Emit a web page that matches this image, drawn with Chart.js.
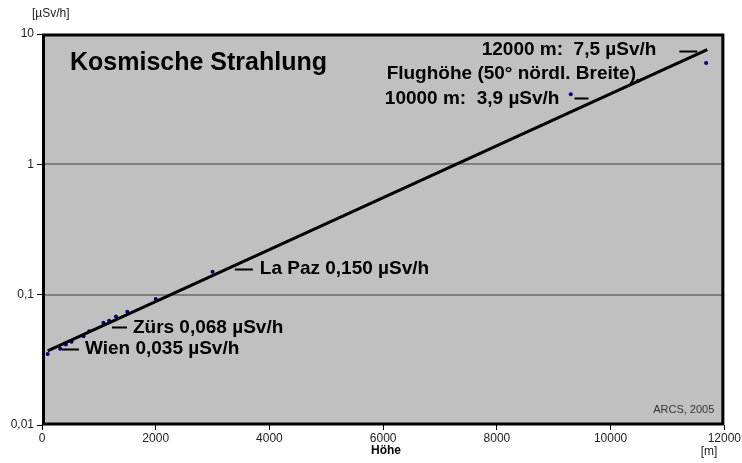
<!DOCTYPE html>
<html>
<head>
<meta charset="utf-8">
<script src="https://cdn.jsdelivr.net/npm/chart.js@4/dist/chart.umd.min.js"></script>
<style>
  html, body { margin: 0; padding: 0; background: #fff; }
  #wrap { width: 742px; height: 463px; }
</style>
</head>
<body>
<div id="wrap"><canvas id="c"></canvas></div>
<script>
// Measured dose rates of cosmic radiation against altitude
const altitudes = [100, 320, 420, 520, 730, 830, 1080, 1180, 1300, 1500, 2000, 3000, 9300, 10480, 11680];
const doseRates = [0.035, 0.0385, 0.0415, 0.0435, 0.048, 0.0525, 0.061, 0.063, 0.068, 0.074, 0.0925, 0.150, 3.45, 4.35, 6.0];

// Exponential trend line (straight on the log axis): start and end
const trendAltitudes = [100, 11700];
const trendRates = [0.037, 7.6];

// Axis ticks
const xTicks = [0, 2000, 4000, 6000, 8000, 10000, 12000];
const yTicks = [0.01, 0.1, 1, 10];
const yTickLabels = ['0,01', '0,1', '1', '10'];

// Callout texts placed in axis units (altitude m, µSv/h)
const callouts = [
  { text: 'Wien 0,035 µSv/h',   tx: 755,   ty: 0.0383, align: 'left',  dx: 351,   dy: 0.0383, len: 17 },
  { text: 'Zürs 0,068 µSv/h',   tx: 1599,  ty: 0.0562, align: 'left',  dx: 1230,  dy: 0.0562, len: 15 },
  { text: 'La Paz 0,150 µSv/h', tx: 3830,  ty: 0.157,  align: 'left',  dx: 3391,  dy: 0.157,  len: 18 },
  { text: '10000 m:  3,9 µSv/h', tx: 9101, ty: 3.20,   align: 'right', dx: 9365,  dy: 3.25,   len: 14 },
  { text: 'Flughöhe (50° nördl. Breite)', tx: 6061, ty: 4.93, align: 'left', dx: null, dy: null, len: 0 },
  { text: '12000 m:  7,5 µSv/h', tx: 10805, ty: 7.54,  align: 'right', dx: 11209, dy: 7.45,   len: 18 }
];

const FONT = '"Liberation Sans", Arial, Helvetica, sans-serif';

const chartDecor = {
  id: 'chartDecor',
  beforeDatasetsDraw(chart) {
    const { ctx, chartArea: a } = chart;
    ctx.save();
    ctx.fillStyle = '#c0c0c0';
    ctx.fillRect(a.left, a.top, a.right - a.left, a.bottom - a.top);
    // gridlines at 1 and 0.1
    const y = chart.scales.y;
    ctx.strokeStyle = '#808080';
    ctx.lineWidth = 2;
    [0.1, 1].forEach(v => {
      const py = Math.round(y.getPixelForValue(v));
      ctx.beginPath();
      ctx.moveTo(a.left, py);
      ctx.lineTo(a.right, py);
      ctx.stroke();
    });
    ctx.restore();
  },
  afterDatasetsDraw(chart) {
    const { ctx, chartArea: a, scales: { x, y } } = chart;
    ctx.save();
    // plot frame
    ctx.strokeStyle = '#000';
    ctx.lineWidth = 3;
    ctx.strokeRect(a.left + 1.5, a.top + 1, a.right - a.left - 3, a.bottom - a.top - 2);

    // title
    ctx.fillStyle = '#000';
    ctx.textBaseline = 'middle';
    ctx.textAlign = 'left';
    ctx.font = 'bold 25px ' + FONT;
    ctx.fillText('Kosmische Strahlung', a.left + 28, a.top + 29);

    // callouts
    ctx.font = 'bold 19px ' + FONT;
    ctx.lineWidth = 2;
    callouts.forEach(c => {
      ctx.textAlign = c.align;
      ctx.fillText(c.text, x.getPixelForValue(c.tx), y.getPixelForValue(c.ty));
      if (c.dx !== null) {
        const px = x.getPixelForValue(c.dx);
        const py = Math.round(y.getPixelForValue(c.dy)) + 0.5;
        ctx.beginPath();
        ctx.moveTo(px, py);
        ctx.lineTo(px + c.len, py);
        ctx.stroke();
      }
    });

    // source note
    ctx.font = '11px ' + FONT;
    ctx.fillStyle = '#333';
    ctx.textAlign = 'right';
    ctx.fillText('ARCS, 2005', a.right - 10, a.bottom - 15);

    // axis units and title
    ctx.fillStyle = '#222';
    ctx.font = '12px ' + FONT;
    ctx.textAlign = 'left';
    ctx.fillText('[µSv/h]', 32, 14);
    ctx.textAlign = 'center';
    ctx.fillText('[m]', 709, 452);
    ctx.fillStyle = '#000';
    ctx.font = 'bold 12px ' + FONT;
    ctx.fillText('Höhe', 386, 451);
    ctx.restore();
  }
};

new Chart(document.getElementById('c'), {
  type: 'scatter',
  data: {
    datasets: [
      {
        label: 'Trend',
        data: trendAltitudes.map((a, i) => ({ x: a, y: trendRates[i] })),
        showLine: true,
        borderColor: '#000',
        borderWidth: 3,
        pointRadius: 0,
        order: 1
      },
      {
        label: 'Messwerte',
        data: altitudes.map((a, i) => ({ x: a, y: doseRates[i] })),
        pointRadius: 2,
        pointBackgroundColor: '#000080',
        pointBorderWidth: 0,
        order: 2
      }
    ]
  },
  options: {
    responsive: true,
    maintainAspectRatio: false,
    animation: false,
    events: [],
    layout: { padding: { left: 0, top: 34, right: 17, bottom: 0 } },
    plugins: { legend: { display: false }, tooltip: { enabled: false } },
    scales: {
      x: {
        type: 'linear',
        min: 0,
        max: 12000,
        afterBuildTicks: s => { s.ticks = xTicks.map(v => ({ value: v })); },
        afterFit: s => { s.height = 38; },
        border: { display: false },
        grid: { drawOnChartArea: false, drawTicks: true, tickLength: 5, tickColor: '#000', tickWidth: 1 },
        ticks: {
          color: '#222',
          font: { family: FONT, size: 12 },
          padding: 1,
          maxRotation: 0,
          callback: v => String(v)
        }
      },
      y: {
        type: 'logarithmic',
        min: 0.01,
        max: 10,
        afterBuildTicks: s => { s.ticks = yTicks.map(v => ({ value: v })); },
        afterFit: s => { s.width = 42; },
        border: { display: false },
        grid: { drawOnChartArea: false, drawTicks: true, tickLength: 5, tickColor: '#000', tickWidth: 1 },
        ticks: {
          color: '#222',
          font: { family: FONT, size: 12 },
          padding: 3,
          callback: (v, i) => yTickLabels[i]
        }
      }
    }
  },
  plugins: [chartDecor]
});
</script>
</body>
</html>
